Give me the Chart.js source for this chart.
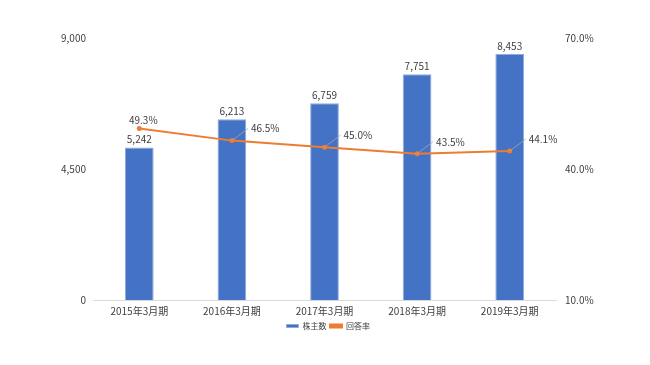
<!DOCTYPE html>
<html>
<head>
<meta charset="utf-8">
<script src="https://cdn.jsdelivr.net/npm/chart.js@4"></script>
<style>
  html, body { margin: 0; padding: 0; background: #fff; }
  #wrap { width: 650px; height: 365px; }
</style>
</head>
<body>
<div id="wrap"><canvas id="myChart"></canvas></div>
<script>
const labels = ["2015年3月期", "2016年3月期", "2017年3月期", "2018年3月期", "2019年3月期"];
const shareholders = [5242, 6213, 6759, 7751, 8453];
const responseRate = [49.3, 46.5, 45.0, 43.5, 44.1];
const leftTicks = [0, 4500, 9000];
const rightTicks = [10, 40, 70];

const FONT = "'Noto Sans CJK JP', 'Liberation Sans', sans-serif";
const TEXT = "#404040";

const valueLabels = {
  id: "valueLabels",
  afterDatasetsDraw(chart) {
    const ctx = chart.ctx;
    ctx.save();
    ctx.font = "10px " + FONT;
    ctx.fillStyle = TEXT;

    // bar labels
    chart.getDatasetMeta(0).data.forEach((bar, i) => {
      ctx.textAlign = "center";
      ctx.textBaseline = "bottom";
      ctx.fillText(shareholders[i].toLocaleString("en-US"), bar.x, bar.y - 3);
    });

    // line labels with leader lines
    chart.getDatasetMeta(1).data.forEach((pt, i) => {
      const txt = responseRate[i].toFixed(1) + "%";
      ctx.textBaseline = "middle";
      if (i === 0) {
        ctx.textAlign = "center";
        ctx.fillText(txt, pt.x + 4, pt.y - 8);
        return;
      }
      const lx = pt.x + 19;
      const ly = pt.y - 12;
      ctx.strokeStyle = "#a6a6a6";
      ctx.lineWidth = 0.8;
      ctx.beginPath();
      ctx.moveTo(pt.x, pt.y);
      ctx.lineTo(lx - 3, ly);
      ctx.stroke();
      ctx.textAlign = "left";
      ctx.fillText(txt, lx, ly);
    });
    ctx.restore();
  }
};

const data = {
  labels: labels,
  datasets: [
    {
      type: "bar",
      label: "株主数",
      data: shareholders,
      yAxisID: "y",
      backgroundColor: "#4472C4",
      borderColor: "#8faadc",
      borderWidth: 1,
      barPercentage: 0.31,
      categoryPercentage: 1,
      order: 2,
    },
    {
      type: "line",
      label: "回答率",
      data: responseRate,
      yAxisID: "y1",
      borderColor: "#ED7D31",
      backgroundColor: "#ED7D31",
      borderWidth: 2,
      pointRadius: 2.5,
      pointBorderWidth: 0,
      tension: 0,
      order: 1,
    },
  ],
};

const configChart = {
  data: data,
  plugins: [valueLabels],
  options: {
    responsive: true,
    maintainAspectRatio: false,
    animation: false,
    layout: { padding: { top: 38, left: 54, right: 44, bottom: 25 } },
    plugins: {
      tooltip: { enabled: false },
      legend: {
        position: "bottom",
        labels: {
          font: { family: FONT, size: 8 },
          color: TEXT,
          boxWidth: 12,
          boxHeight: 3,
          padding: 0,
          sort: (a, b) => a.datasetIndex - b.datasetIndex,
          generateLabels: (chart) =>
            Chart.defaults.plugins.legend.labels.generateLabels(chart).map((item) => {
              item.text = item.text + "  ";
              return item;
            }),
        },
      },
    },
    scales: {
      x: {
        grid: { display: false, drawTicks: false },
        border: { color: "#d9d9d9", width: 1 },
        ticks: { font: { family: FONT, size: 10 }, color: TEXT, padding: 5, maxRotation: 0 },
      },
      y: {
        position: "left",
        min: 0,
        max: 9000,
        afterBuildTicks: (axis) => { axis.ticks = leftTicks.map(v => ({ value: v })); },
        grid: { display: false, drawTicks: false },
        border: { display: false },
        ticks: {
          font: { family: FONT, size: 10 },
          color: TEXT,
          padding: 7,
          callback: (v) => v.toLocaleString("en-US"),
        },
        afterFit: (axis) => { axis.width = 39; },
      },
      y1: {
        position: "right",
        min: 10,
        max: 70,
        afterBuildTicks: (axis) => { axis.ticks = rightTicks.map(v => ({ value: v })); },
        grid: { display: false, drawTicks: false },
        border: { display: false },
        ticks: {
          font: { family: FONT, size: 10 },
          color: TEXT,
          padding: 9,
          callback: (v) => v.toFixed(1) + "%",
        },
        afterFit: (axis) => { axis.width = 50; },
      },
    },
  },
};

const myChart = new Chart(document.querySelector("#myChart"), configChart);
</script>
</body>
</html>
